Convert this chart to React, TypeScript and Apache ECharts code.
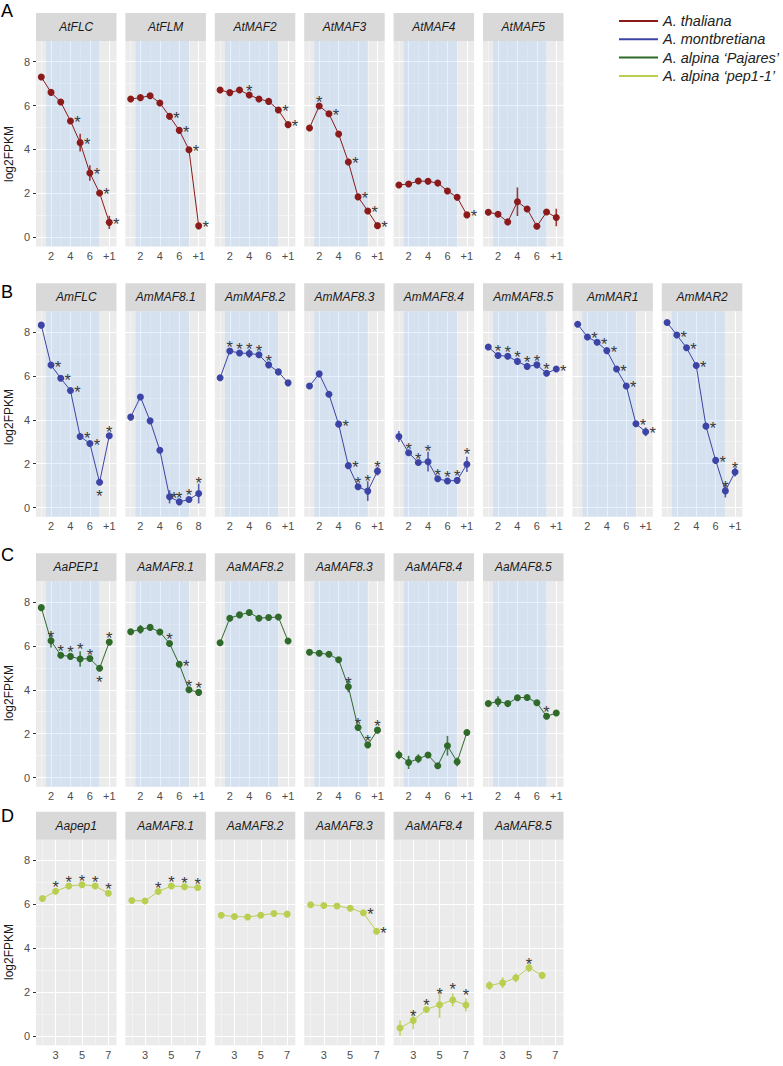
import React, { useEffect, useRef } from 'react';
import * as echarts from 'echarts';

// ---------- legend / species ----------
const SPECIES = ['A. thaliana', 'A. montbretiana', 'A. alpina \u2018Pajares\u2019', 'A. alpina \u2018pep1-1\u2019'];
const SPECIES_COLORS = ['#8b1a1a', '#3c45a6', '#2f6a2b', '#b9cf52'];

// ---------- axis ticks ----------
const Y_TICKS = [0, 2, 4, 6, 8];
const Y_MINOR = [1, 3, 5, 7];
const X_TICKS_WEEKS = [2, 4, 6, 8];
const X_LABELS_WEEKS = ['2', '4', '6', '+1'];
const X_LABELS_WEEKS_8 = ['2', '4', '6', '8'];
const X_MINOR_WEEKS = [1, 3, 5, 7];
const X_TICKS_D = [3, 5, 7];
const X_LABELS_D = ['3', '5', '7'];
const X_MINOR_D = [2, 4, 6];
const SHADE_FROM = 1.5;
const SHADE_TO = 7;

// ---------- Row A: A. thaliana (weeks 1..8) ----------
const AtFLC = [7.3, 6.6, 6.16, 5.3, 4.31, 2.93, 2.02, 0.68];
const AtFLC_err = [0, 0, 0, 0.08, 0.4, 0.35, 0.05, 0.3];
const AtFLC_sig = '...rrrrr';
const AtFLM = [6.3, 6.36, 6.45, 6.12, 5.51, 4.87, 3.99, 0.52];
const AtFLM_err = [0, 0, 0, 0, 0.15, 0.05, 0.05, 0];
const AtFLM_sig = '....rrrr';
const AtMAF2 = [6.71, 6.59, 6.71, 6.48, 6.3, 6.19, 5.8, 5.13];
const AtMAF2_err = [0, 0, 0, 0.1, 0.08, 0.05, 0.08, 0.1];
const AtMAF2_sig = '...a..rr';
const AtMAF3 = [4.98, 5.98, 5.63, 4.7, 3.43, 1.84, 1.2, 0.53];
const AtMAF3_err = [0, 0.08, 0.05, 0, 0.15, 0.05, 0.05, 0];
const AtMAF3_sig = '.ar.rrrr';
const AtMAF4 = [2.38, 2.43, 2.56, 2.55, 2.47, 2.11, 1.82, 1.02];
const AtMAF4_err = [0.05, 0.05, 0.05, 0.15, 0.15, 0.05, 0.15, 0];
const AtMAF4_sig = '.......r';
const AtMAF5 = [1.14, 1.05, 0.7, 1.62, 1.29, 0.5, 1.15, 0.9];
const AtMAF5_err = [0, 0.05, 0, 0.65, 0.1, 0.12, 0, 0.4];
const AtMAF5_sig = '........';

// ---------- Row B: A. montbretiana ----------
const AmFLC = [8.31, 6.49, 5.89, 5.33, 3.24, 2.92, 1.15, 3.27];
const AmFLC_err = [0, 0.08, 0, 0.08, 0, 0, 0.12, 0.1];
const AmFLC_sig = '.rrrrrba';
const AmMAF81 = [4.12, 5.04, 3.95, 2.61, 0.49, 0.26, 0.37, 0.64];
const AmMAF81_err = [0, 0, 0, 0, 0.3, 0, 0, 0.45];
const AmMAF81_sig = '....saaA';
const AmMAF82 = [5.91, 7.13, 7.04, 7.02, 6.96, 6.5, 6.18, 5.68];
const AmMAF82_err = [0, 0, 0, 0.2, 0, 0, 0.15, 0];
const AmMAF82_sig = '.aaaaa..';
const AmMAF83 = [5.54, 6.09, 5.16, 3.8, 1.91, 0.95, 0.75, 1.66];
const AmMAF83_err = [0, 0, 0, 0, 0, 0.15, 0.45, 0.2];
const AmMAF83_sig = '...rraAa';
const AmMAF84 = [3.24, 2.5, 2.05, 2.09, 1.31, 1.21, 1.24, 1.97];
const AmMAF84_err = [0.25, 0, 0, 0.45, 0, 0, 0, 0.35];
const AmMAF84_sig = '.aaAaaaA';
const AmMAF85 = [7.31, 6.93, 6.89, 6.66, 6.43, 6.5, 6.12, 6.31];
const AmMAF85_err = [0, 0.05, 0.05, 0, 0, 0, 0, 0];
const AmMAF85_sig = '.aaaaaar';
const AmMAR1 = [8.35, 7.77, 7.53, 7.15, 6.31, 5.54, 3.82, 3.45];
const AmMAR1_err = [0, 0, 0, 0, 0, 0, 0, 0.2];
const AmMAR1_sig = '.rrrrrrr';
const AmMAR2 = [8.43, 7.86, 7.28, 6.47, 3.71, 2.15, 0.76, 1.62];
const AmMAR2_err = [0, 0, 0, 0, 0, 0, 0.3, 0.2];
const AmMAR2_sig = '.rrrrraa';

// ---------- Row C: A. alpina Pajares ----------
const AaPEP1 = [7.74, 6.23, 5.57, 5.52, 5.4, 5.42, 4.98, 6.17];
const AaPEP1_err = [0, 0.3, 0, 0, 0.35, 0, 0, 0.08];
const AaPEP1_sig = '.aaaAaba';
const AaMAF81 = [6.64, 6.75, 6.84, 6.63, 6.11, 5.16, 4.0, 3.88];
const AaMAF81_err = [0, 0.2, 0.1, 0, 0, 0, 0, 0];
const AaMAF81_sig = '....araa';
const AaMAF82 = [6.14, 7.26, 7.41, 7.52, 7.26, 7.29, 7.31, 6.22];
const AaMAF82_err = [0, 0, 0, 0, 0, 0, 0, 0];
const AaMAF82_sig = '........';
const AaMAF83 = [5.71, 5.66, 5.62, 5.37, 4.14, 2.28, 1.49, 2.16];
const AaMAF83_err = [0, 0, 0, 0, 0.25, 0, 0, 0.1];
const AaMAF83_sig = '....aaaa';
const AaMAF84 = [1.03, 0.69, 0.86, 1.03, 0.54, 1.45, 0.72, 2.05];
const AaMAF84_err = [0.2, 0.3, 0.2, 0, 0, 0.45, 0.2, 0.15];
const AaMAF84_sig = '........';
const AaMAF85 = [3.37, 3.46, 3.37, 3.64, 3.65, 3.41, 2.79, 2.94];
const AaMAF85_err = [0, 0.25, 0, 0, 0, 0, 0, 0];
const AaMAF85_sig = '......a.';

// ---------- Row D: A. alpina pep1-1 (weeks 2..7) ----------
const Dpep1 = [6.26, 6.59, 6.83, 6.89, 6.83, 6.5];
const Dpep1_err = [0, 0.05, 0, 0, 0.1, 0.12];
const Dpep1_sig = '.aaaaa';
const DMAF81 = [6.17, 6.15, 6.58, 6.83, 6.8, 6.76];
const DMAF81_err = [0, 0, 0, 0, 0, 0];
const DMAF81_sig = '..aaaa';
const DMAF82 = [5.5, 5.44, 5.42, 5.5, 5.58, 5.55];
const DMAF82_err = [0, 0, 0, 0, 0, 0];
const DMAF82_sig = '......';
const DMAF83 = [5.98, 5.94, 5.92, 5.82, 5.61, 4.77];
const DMAF83_err = [0, 0, 0, 0, 0, 0.08];
const DMAF83_sig = '....rr';
const DMAF84 = [0.36, 0.71, 1.21, 1.42, 1.64, 1.41];
const DMAF84_err = [0.35, 0.4, 0.08, 0.6, 0.3, 0.3];
const DMAF84_sig = '.aaAAA';
const DMAF85 = [2.3, 2.42, 2.65, 3.11, 2.76];
const DMAF85_err = [0.2, 0.25, 0.2, 0.2, 0];
const DMAF85_sig = '...a.';

// ---------- layout ----------
const FONT = '"Liberation Sans", Arial, Helvetica, sans-serif';
const PANEL_LEFT = 36;
const PANEL_STEP = 89.4;
const PANEL_W = 80.5;
const PLOT_H = 205.5;
const STRIP_H = 28;
const Y_MIN = -0.42;
const Y_MAX = 8.94;

const ROWS = [
  { letter: 'A', letterY: 13, stripTop: 13, shaded: true, xStart: 1, xMin: 0.454, xMax: 8.744, yLabelY: 154 },
  { letter: 'B', letterY: 293.5, stripTop: 283.3, shaded: true, xStart: 1, xMin: 0.454, xMax: 8.744, yLabelY: 417 },
  { letter: 'C', letterY: 557, stripTop: 553.3, shaded: true, xStart: 1, xMin: 0.454, xMax: 8.744, yLabelY: 693 },
  { letter: 'D', letterY: 818.3, stripTop: 811.7, shaded: false, xStart: 2, xMin: 1.51, xMax: 7.62, yLabelY: 952 },
];

type Panel = { title: string; vals: number[]; err: number[]; sig: string; sp: number; row: number; labels?: string[] };

const PANELS: Panel[] = [
  { title: 'AtFLC', vals: AtFLC, err: AtFLC_err, sig: AtFLC_sig, sp: 0, row: 0 },
  { title: 'AtFLM', vals: AtFLM, err: AtFLM_err, sig: AtFLM_sig, sp: 0, row: 0 },
  { title: 'AtMAF2', vals: AtMAF2, err: AtMAF2_err, sig: AtMAF2_sig, sp: 0, row: 0 },
  { title: 'AtMAF3', vals: AtMAF3, err: AtMAF3_err, sig: AtMAF3_sig, sp: 0, row: 0 },
  { title: 'AtMAF4', vals: AtMAF4, err: AtMAF4_err, sig: AtMAF4_sig, sp: 0, row: 0 },
  { title: 'AtMAF5', vals: AtMAF5, err: AtMAF5_err, sig: AtMAF5_sig, sp: 0, row: 0 },
  { title: 'AmFLC', vals: AmFLC, err: AmFLC_err, sig: AmFLC_sig, sp: 1, row: 1 },
  { title: 'AmMAF8.1', vals: AmMAF81, err: AmMAF81_err, sig: AmMAF81_sig, sp: 1, row: 1, labels: X_LABELS_WEEKS_8 },
  { title: 'AmMAF8.2', vals: AmMAF82, err: AmMAF82_err, sig: AmMAF82_sig, sp: 1, row: 1 },
  { title: 'AmMAF8.3', vals: AmMAF83, err: AmMAF83_err, sig: AmMAF83_sig, sp: 1, row: 1 },
  { title: 'AmMAF8.4', vals: AmMAF84, err: AmMAF84_err, sig: AmMAF84_sig, sp: 1, row: 1 },
  { title: 'AmMAF8.5', vals: AmMAF85, err: AmMAF85_err, sig: AmMAF85_sig, sp: 1, row: 1 },
  { title: 'AmMAR1', vals: AmMAR1, err: AmMAR1_err, sig: AmMAR1_sig, sp: 1, row: 1 },
  { title: 'AmMAR2', vals: AmMAR2, err: AmMAR2_err, sig: AmMAR2_sig, sp: 1, row: 1 },
  { title: 'AaPEP1', vals: AaPEP1, err: AaPEP1_err, sig: AaPEP1_sig, sp: 2, row: 2 },
  { title: 'AaMAF8.1', vals: AaMAF81, err: AaMAF81_err, sig: AaMAF81_sig, sp: 2, row: 2 },
  { title: 'AaMAF8.2', vals: AaMAF82, err: AaMAF82_err, sig: AaMAF82_sig, sp: 2, row: 2 },
  { title: 'AaMAF8.3', vals: AaMAF83, err: AaMAF83_err, sig: AaMAF83_sig, sp: 2, row: 2 },
  { title: 'AaMAF8.4', vals: AaMAF84, err: AaMAF84_err, sig: AaMAF84_sig, sp: 2, row: 2 },
  { title: 'AaMAF8.5', vals: AaMAF85, err: AaMAF85_err, sig: AaMAF85_sig, sp: 2, row: 2 },
  { title: 'Aapep1', vals: Dpep1, err: Dpep1_err, sig: Dpep1_sig, sp: 3, row: 3 },
  { title: 'AaMAF8.1', vals: DMAF81, err: DMAF81_err, sig: DMAF81_sig, sp: 3, row: 3 },
  { title: 'AaMAF8.2', vals: DMAF82, err: DMAF82_err, sig: DMAF82_sig, sp: 3, row: 3 },
  { title: 'AaMAF8.3', vals: DMAF83, err: DMAF83_err, sig: DMAF83_sig, sp: 3, row: 3 },
  { title: 'AaMAF8.4', vals: DMAF84, err: DMAF84_err, sig: DMAF84_sig, sp: 3, row: 3 },
  { title: 'AaMAF8.5', vals: DMAF85, err: DMAF85_err, sig: DMAF85_sig, sp: 3, row: 3 },
];

// asterisk label offsets (right, slight right, above, high above, below)
const STAR_OFFSET: Record<string, number[]> = { r: [7, 1.5], s: [4.5, 1], a: [0, -4], A: [0, -10.5], b: [0, 13.5] };

function buildOption() {
  const grids: any[] = [];
  const xAxes: any[] = [];
  const yAxes: any[] = [];
  const series: any[] = [];
  const graphics: any[] = [];
  const colCount = [0, 0, 0, 0];

  ROWS.forEach((r) => {
    graphics.push({
      type: 'text', left: 1, top: r.letterY - 11,
      style: { text: r.letter, font: `18px ${FONT}`, fill: '#000' },
    });
    graphics.push({
      type: 'text', x: 9, y: r.yLabelY, rotation: Math.PI / 2,
      style: { text: 'log2FPKM', font: `12px ${FONT}`, fill: '#1a1a1a', align: 'center', verticalAlign: 'middle' },
    });
  });

  PANELS.forEach((p, i) => {
    const r = ROWS[p.row];
    const col = colCount[p.row]++;
    const left = PANEL_LEFT + col * PANEL_STEP;
    const plotTop = r.stripTop + STRIP_H;
    const isD = p.row === 3;
    const xt = isD ? X_TICKS_D : X_TICKS_WEEKS;
    const xl = isD ? X_LABELS_D : p.labels || X_LABELS_WEEKS;
    const xm = isD ? X_MINOR_D : X_MINOR_WEEKS;
    const color = SPECIES_COLORS[p.sp];

    grids.push({ left, top: plotTop, width: PANEL_W, height: PLOT_H, show: true, backgroundColor: '#ebebeb', borderWidth: 0 });

    // strip
    graphics.push({ type: 'rect', shape: { x: left, y: r.stripTop, width: PANEL_W, height: STRIP_H }, style: { fill: '#d9d9d9' } });
    graphics.push({
      type: 'text', x: left + PANEL_W / 2, y: r.stripTop + STRIP_H / 2,
      style: { text: p.title, font: `italic 12px ${FONT}`, fill: '#1a1a1a', align: 'center', verticalAlign: 'middle' },
    });

    xAxes.push({
      gridIndex: i, type: 'value', min: r.xMin, max: r.xMax,
      axisLine: { show: false },
      axisTick: { show: true, length: 3, customValues: xt, lineStyle: { color: '#333', width: 1 } },
      axisLabel: {
        show: true, customValues: xt, margin: 4, fontSize: 11, color: '#4d4d4d', fontFamily: FONT,
        formatter: (v: number) => { const k = xt.indexOf(Math.round(v)); return k >= 0 ? xl[k] : ''; },
      },
      splitLine: { show: false },
    });
    const first = col === 0;
    yAxes.push({
      gridIndex: i, type: 'value', min: Y_MIN, max: Y_MAX,
      axisLine: { show: false },
      axisTick: { show: first, length: 3, customValues: Y_TICKS, lineStyle: { color: '#333', width: 1 } },
      axisLabel: { show: first, customValues: Y_TICKS, margin: 6, fontSize: 11, color: '#4d4d4d', fontFamily: FONT },
      splitLine: { show: false },
    });

    const gridData: any[] = [];
    xt.forEach((v) => gridData.push({ xAxis: v, lineStyle: { width: 1.1, color: '#ffffff', type: 'solid' } }));
    xm.forEach((v) => gridData.push({ xAxis: v, lineStyle: { width: 0.55, color: '#fafafa', type: 'solid' } }));
    Y_TICKS.forEach((v) => gridData.push({ yAxis: v, lineStyle: { width: 1.1, color: '#ffffff', type: 'solid' } }));
    Y_MINOR.forEach((v) => gridData.push({ yAxis: v, lineStyle: { width: 0.55, color: '#fafafa', type: 'solid' } }));

    const data = p.vals.map((v, k) => {
      const s = p.sig[k];
      const item: any = { value: [r.xStart + k, v] };
      if (s && s !== '.') {
        item.label = {
          show: true, formatter: '*', position: 'inside', offset: STAR_OFFSET[s],
          fontSize: 16.5, color: '#3a3a3a', fontFamily: FONT,
        };
      }
      return item;
    });

    series.push({
      type: 'line', name: SPECIES[p.sp], xAxisIndex: i, yAxisIndex: i, z: 4,
      data, symbol: 'circle', symbolSize: 7, showSymbol: true,
      lineStyle: { width: 1, color }, itemStyle: { color },
      label: { show: false }, emphasis: { disabled: true }, silent: true,
      markLine: {
        silent: true, z: 1, symbol: ['none', 'none'], label: { show: false },
        lineStyle: { type: 'solid', color: '#fff' }, emphasis: { disabled: true }, animation: false,
        data: gridData,
      },
      markArea: r.shaded
        ? {
            silent: true, z: 2, label: { show: false }, itemStyle: { color: 'rgba(135,190,255,0.22)' },
            emphasis: { disabled: true },
            data: [[{ xAxis: SHADE_FROM }, { xAxis: SHADE_TO }]],
          }
        : undefined,
    });

    series.push({
      type: 'custom', xAxisIndex: i, yAxisIndex: i, z: 3, silent: true,
      data: p.vals.map((v, k) => [r.xStart + k, v, p.err[k]]),
      renderItem: (params: any, api: any) => {
        const x = api.value(0), y = api.value(1), e = api.value(2);
        if (!e) return { type: 'group', children: [] };
        const a = api.coord([x, y - e]);
        const b = api.coord([x, y + e]);
        return {
          type: 'line', shape: { x1: a[0], y1: a[1], x2: b[0], y2: b[1] },
          style: { stroke: color, lineWidth: 1.6, opacity: 0.85 },
        };
      },
    });
  });

  return {
    animation: false,
    backgroundColor: '#ffffff',
    textStyle: { fontFamily: FONT },
    legend: {
      data: SPECIES, orient: 'vertical', left: 614, top: 8.5, icon: 'rect',
      itemWidth: 39, itemHeight: 2, itemGap: 3.3, selectedMode: false,
      textStyle: { fontSize: 14.5, fontStyle: 'italic', color: '#222', fontFamily: FONT },
    },
    grid: grids,
    xAxis: xAxes,
    yAxis: yAxes,
    series,
    graphic: graphics,
  };
}

export default function App() {
  const ref = useRef<HTMLDivElement>(null);
  useEffect(() => {
    if (!ref.current) return;
    const chart = echarts.init(ref.current, undefined, { renderer: 'svg' });
    chart.setOption(buildOption() as any);
    return () => chart.dispose();
  }, []);
  return <div ref={ref} style={{ position: 'absolute', left: 0, top: 0, width: 783, height: 1066 }} />;
}
